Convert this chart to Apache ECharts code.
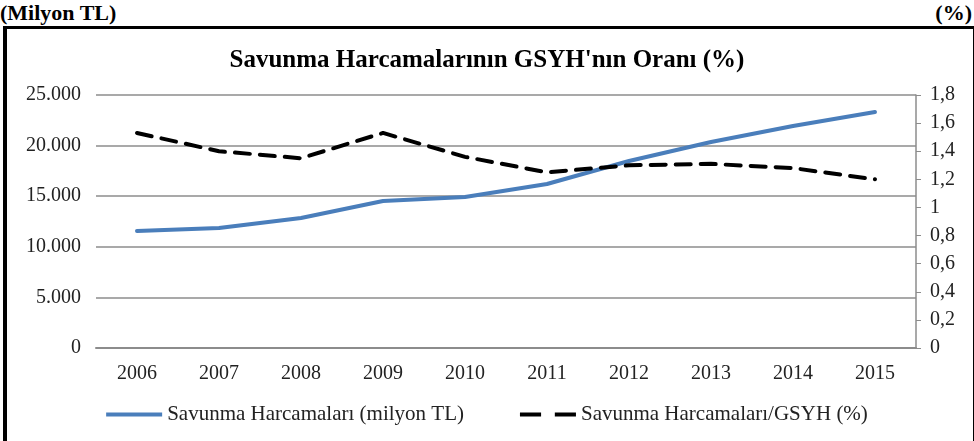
<!DOCTYPE html>
<html>
<head>
<meta charset="utf-8">
<script src="https://cdn.jsdelivr.net/npm/echarts@6/dist/echarts.min.js"></script>
<style>
  html, body { margin: 0; padding: 0; background: #fff; }
  #wrap { position: relative; width: 974px; height: 441px; overflow: hidden; }
  .unit { position: absolute; top: 0px; font: bold 22px "Liberation Serif", serif; color: #000; }
  #box { position: absolute; left: 3px; top: 26px; width: 966px; height: 413px;
         border-left: 4px solid #000; border-top: 3px solid #000;
         border-right: 2px solid #000; border-bottom: 1px solid #999; }
  #main { position: absolute; left: 0; top: 0; width: 974px; height: 441px; }
</style>
</head>
<body>
<div id="wrap">
  <div id="box"></div>
  <div class="unit" style="left:0">(Milyon TL)</div>
  <div class="unit" style="right:2px">(%)</div>
  <div id="main"></div>
</div>
<script>
var years = ['2006', '2007', '2008', '2009', '2010', '2011', '2012', '2013', '2014', '2015'];
// savunma harcamalari, milyon TL
var harcama = [11560, 11860, 12850, 14530, 14920, 16210, 18480, 20360, 21940, 23320];
// savunma harcamalari / GSYH, %
var gsyhOran = [1.53, 1.40, 1.35, 1.53, 1.36, 1.25, 1.30, 1.31, 1.28, 1.20];

var myChart = echarts.init(document.getElementById('main'));

var labelFont = {
    fontFamily: 'Liberation Serif',
    fontSize: 20,
    color: '#222'
};

option = {
    animation: false,
    title: {
        text: "Savunma Harcamalarının GSYH'nın Oranı (%)",
        left: 'center',
        top: 43,
        textStyle: {
            fontFamily: 'Liberation Serif',
            fontWeight: 'bold',
            fontSize: 25,
            color: '#000'
        }
    },
    grid: {
        left: 96,
        right: 58,
        top: 95,
        bottom: 93
    },
    legend: {
        top: 399,
        left: 'center',
        itemWidth: 56,
        itemHeight: 5,
        itemGap: 56,
        textStyle: {
            fontFamily: 'Liberation Serif',
            fontSize: 21,
            color: '#222'
        },
        data: [{
            name: 'Savunma Harcamaları (milyon TL)',
            icon: 'path://M0,0H56V4H0Z'
        }, {
            name: 'Savunma Harcamaları/GSYH (%)',
            icon: 'path://M0,0H20V4H0Z M33,0H53V4H33Z'
        }]
    },
    xAxis: {
        type: 'category',
        data: years,
        axisLine: { lineStyle: { color: '#8c8c8c', width: 2 } },
        axisTick: { show: false },
        axisLabel: Object.assign({ margin: 16 }, labelFont)
    },
    yAxis: [{
        type: 'value',
        min: 0,
        max: 25000,
        interval: 5000,
        axisLine: { show: false },
        axisTick: { show: false },
        splitLine: { lineStyle: { color: '#8c8c8c', width: 1.5 } },
        axisLabel: Object.assign({
            margin: 15,
            formatter: function (v) {
                return v.toString().replace(/\B(?=(\d{3})+(?!\d))/g, '.');
            }
        }, labelFont)
    }, {
        type: 'value',
        min: 0,
        max: 1.8,
        interval: 0.2,
        position: 'right',
        axisLine: { show: true, lineStyle: { color: '#8c8c8c', width: 1.5 } },
        axisTick: { show: true, length: 5, lineStyle: { color: '#8c8c8c' } },
        splitLine: { show: false },
        axisLabel: Object.assign({
            margin: 14,
            formatter: function (v) {
                return (Math.round(v * 10) / 10).toString().replace('.', ',');
            }
        }, labelFont)
    }],
    series: [{
        name: 'Savunma Harcamaları (milyon TL)',
        type: 'line',
        yAxisIndex: 0,
        symbol: 'none',
        lineStyle: { color: '#4a7ebb', width: 4, cap: 'round' },
        itemStyle: { color: '#4a7ebb' },
        data: harcama
    }, {
        name: 'Savunma Harcamaları/GSYH (%)',
        type: 'line',
        yAxisIndex: 1,
        symbol: 'none',
        lineStyle: { color: '#000', width: 4, type: [15, 10], cap: 'round' },
        itemStyle: { color: '#000' },
        data: gsyhOran
    }]
};

myChart.setOption(option);
</script>
</body>
</html>
